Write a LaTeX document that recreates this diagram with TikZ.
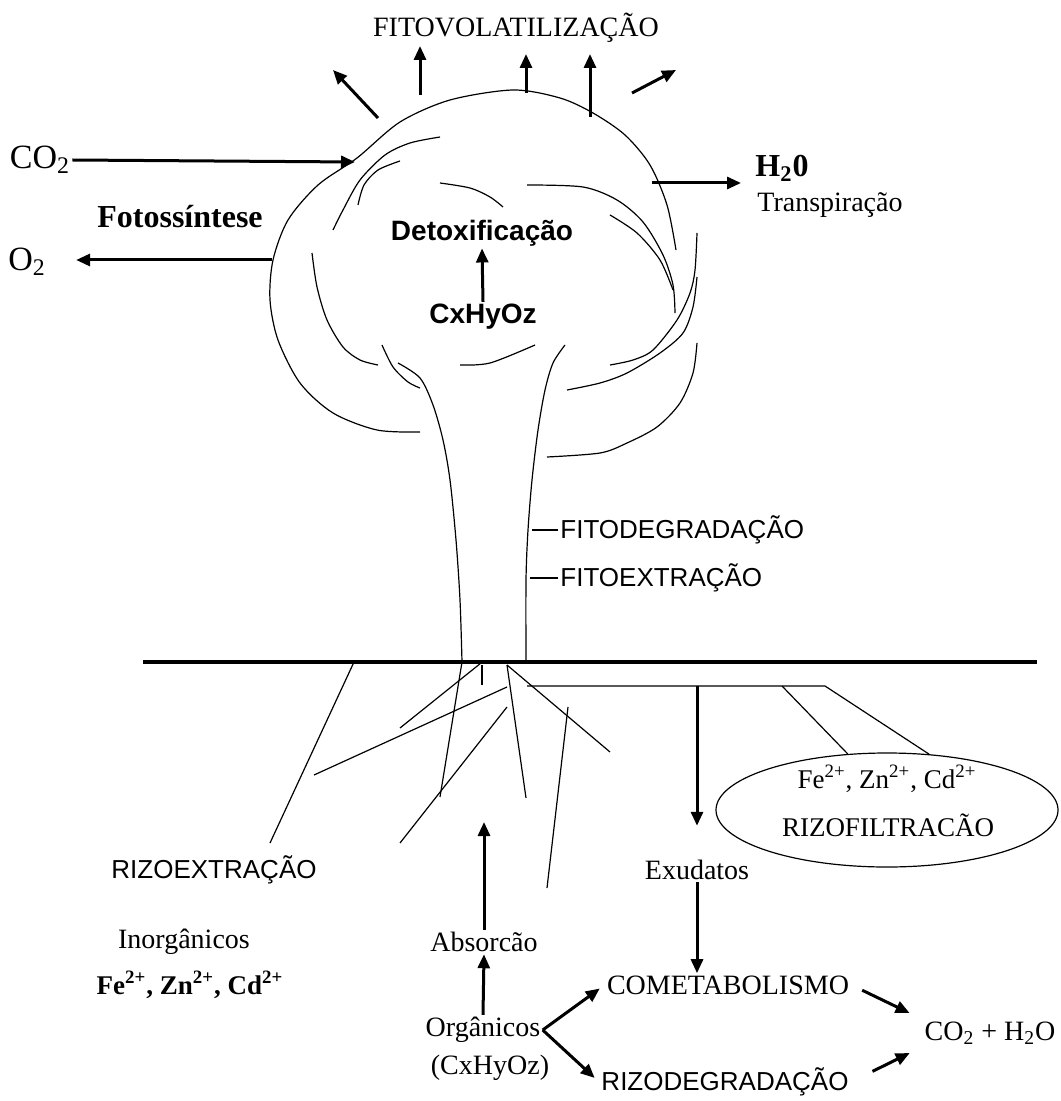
\documentclass[tikz,border=0pt]{standalone}
\usepackage{fontspec}
\setmainfont{Liberation Serif}
\setsansfont{Liberation Sans}
\usetikzlibrary{arrows.meta,shapes.geometric}

\begin{document}
\begin{tikzpicture}[x=0.5pt, y=-0.5pt,
  leaf/.style={line width=0.6pt},
  flow/.style={line width=1.5pt, -{Triangle[length=7pt,width=6pt]}},
  rm/.style={inner sep=1pt, font=\fontsize{14}{16}\selectfont},
  ss/.style={inner sep=1pt, font=\sffamily\fontsize{13}{15}\selectfont}]
\useasboundingbox (0,0) rectangle (1060,1101);

% Canopy
\draw[leaf] plot[smooth] coordinates {(420,432) (377,430) (333,413) (300,383) (278,340) (270,300) (273,260) (288,220) (318,185) (357,158) (400,122) (450,100) (513,90) (560,98) (593,113) (625,135) (650,165) (667,205) (676,250)};
\draw[leaf] plot[smooth] coordinates {(440,137) (410,143) (385,155) (360,180) (343,210) (333,230)};
\draw[leaf] plot[smooth] coordinates {(400,161) (378,170) (364,185) (358,205)};
\draw[leaf] plot[smooth] coordinates {(440,183) (470,188) (490,197) (503,207)};
\draw[leaf] plot[smooth] coordinates {(527,185) (583,187) (617,200) (643,222) (663,255) (673,285) (675,313)};
\draw[leaf] plot[smooth] coordinates {(610,215) (637,233) (660,260) (673,290)};
\draw[leaf] plot[smooth] coordinates {(697,233) (695,270) (690,293) (677,320) (653,350) (633,360) (610,365)};
\draw[leaf] plot[smooth] coordinates {(697,277) (693,307) (683,333) (660,353) (627,373) (600,383) (567,390)};
\draw[leaf] plot[smooth] coordinates {(697,343) (693,373) (680,403) (657,427) (627,443) (600,453) (547,457)};
\draw[leaf] plot[smooth] coordinates {(312,253) (317,287) (327,320) (343,347) (360,360) (378,365)};
\draw[leaf] plot[smooth] coordinates {(460,365) (490,363) (535,345)};
\draw[leaf] plot[smooth] coordinates {(382,345) (393,367) (408,382) (420,388)};

% Trunk
\draw[leaf] plot[smooth] coordinates {(398,363) (420,378) (433,405) (443,440) (450,480) (456,540) (460,600) (462,662)};
\draw[leaf] plot[smooth] coordinates {(565,345) (553,363) (545,390) (538,430) (532,480) (528,530) (526,580) (526,662)};

% Ground and roots
\draw[line width=1.6pt] (143,662) -- (1037,662);
\draw[leaf] (354,662) -- (270,843);
\draw[leaf] (462,662) -- (440,797);
\draw[leaf] (481,663) -- (400,728);
\draw[leaf] (482,665) -- (482,685);
\draw[leaf] (507,687) -- (314,775);
\draw[leaf] (507,707) -- (400,843);
\draw[leaf] (507,665) -- (526,798);
\draw[leaf] (507,665) -- (610,752);
\draw[leaf] (568,707) -- (547,888);

% Labels in the air
\node[rm, font=\fontsize{14}{16}\selectfont] (fitovol) at (516,28) {FITOVOLATILIZAÇÃO};
\node[rm, font=\fontsize{17}{19}\selectfont] (co2) at (40,160) {CO\textsubscript{2}};
\node[rm, font=\bfseries\fontsize{16}{18}\selectfont] (fotos) at (180,217) {Fotossíntese};
\node[rm, font=\fontsize{17}{19}\selectfont] (o2) at (27,262) {O\textsubscript{2}};
\node[ss, font=\sffamily\bfseries\fontsize{14}{16}\selectfont] (detox) at (482,233) {Detoxificação};
\node[ss, font=\sffamily\bfseries\fontsize{14}{16}\selectfont] (cxhyoz) at (483,317) {CxHyOz};
\node[rm, font=\bfseries\fontsize{16}{18}\selectfont, anchor=west] (h2o) at (753,168) {H\textsubscript{2}0};
\node[rm, anchor=west] (transp) at (755,205) {Transpiração};
\node[ss, anchor=west] (fitodeg) at (558,530) {FITODEGRADAÇÃO};
\node[ss, anchor=west] (fitoext) at (558,578) {FITOEXTRAÇÃO};

% Labels in the soil
\node[ellipse, draw, line width=0.6pt, minimum width=171pt, minimum height=57pt] (filt) at (887,810) {};
\node[rm, font=\fontsize{13.5}{16}\selectfont] (filtions) at (887,779) {Fe\textsuperscript{2+}, Zn\textsuperscript{2+}, Cd\textsuperscript{2+}};
\node[rm, font=\fontsize{13.5}{16}\selectfont] (filtname) at (888,825) {RIZOFILTRACÃO};
\node[ss] (rizoext) at (214,870) {RIZOEXTRAÇÃO};
\node[rm] (exu) at (697,870) {Exudatos};
\node[rm] (inorg) at (184,942) {Inorgânicos};
\node[rm, font=\bfseries\fontsize{13.5}{15}\selectfont] (ions) at (190,985) {Fe\textsuperscript{2+}, Zn\textsuperscript{2+}, Cd\textsuperscript{2+}};
\node[rm] (absor) at (484,942) {Absorcão};
\node[rm] (org) at (483,1030) {Orgânicos};
\node[rm] (orgf) at (490,1068) {(CxHyOz)};
\node[rm] (come) at (728,985) {COMETABOLISMO};
\node[ss] (rizodeg) at (725,1082) {RIZODEGRADAÇÃO};
\node[rm] (prod) at (990,1033) {CO\textsubscript{2} + H\textsubscript{2}O};

% Root branches reaching the ellipse
\coordinate (exutop) at (697,686);
\draw[leaf] (527,686) -- (825,686) -- (filt.53);
\draw[leaf] (782,686) -- (filt.125);
\draw[leaf] (532,530) -- (fitodeg.west);
\draw[leaf] (530,578) -- (fitoext.west);

% Gas exchange
\coordinate (co2tip) at (355,162);
\coordinate (o2src) at (272,260);
\coordinate (h2osrc) at (652,183);
\draw[flow] (co2.east) -- (co2tip);
\draw[flow] (o2src) -- ([xshift=14pt]o2.east |- o2src);
\draw[flow] (h2osrc) -- ([xshift=-6pt]h2osrc -| h2o.west);

% Volatilisation
\coordinate (v1) at (378,118);
\coordinate (v2) at (420,95);
\coordinate (v3) at (526,93);
\coordinate (v4) at (590,117);
\coordinate (v5) at (632,93);
\draw[flow] (v1) -- (333,70);
\draw[flow] (v2) -- (420,46);
\draw[flow] (v3) -- (526,54);
\draw[flow] (v4) -- (590,54);
\draw[flow] (v5) -- (676,70);
\draw[flow] (cxhyoz.north) -- (detox.south);

% Soil processes
\coordinate (roottip) at (484,822);
\draw[flow] (absor.north) -- (roottip);
\draw[flow] (org.north) -- (absor.south);
\draw[flow] (exutop) -- ([yshift=16pt]exu.north);
\draw[flow] (exu.south) -- (exu.south |- come.north);
\draw[flow, shorten >=3pt] (org.east) -- (come.west);
\draw[flow, shorten >=3pt] (org.east) -- (rizodeg.west);
\draw[flow, shorten <=6pt, shorten >=7pt] (come.east) -- (prod.north west);
\draw[flow, shorten <=12pt, shorten >=7pt] (rizodeg.east) -- (prod.south west);
\end{tikzpicture}
\end{document}
